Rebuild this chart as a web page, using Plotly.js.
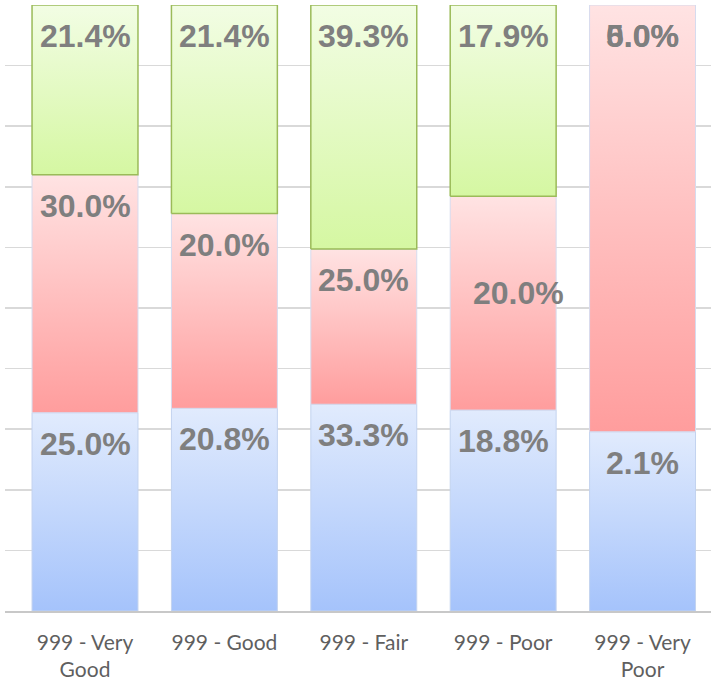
<!DOCTYPE html>
<html>
<head>
<meta charset="utf-8">
<script src="https://cdn.plot.ly/plotly-3.0.1.min.js"></script>
<style>html,body{margin:0;padding:0;background:#fff;}#chart{width:711px;height:690px;}</style>
</head>
<body>
<div id="chart"></div>
<script>
// ---- data ----
const categories = ['999 - Very<br>Good', '999 - Good', '999 - Fair', '999 - Poor', '999 - Very<br>Poor'];
const seriesNames = ['Blue', 'Red', 'Green'];
const blueValues = [25.0, 20.8, 33.3, 18.8, 2.1];
const redValues = [30.0, 20.0, 25.0, 20.0, 5.0];
const greenValues = [21.4, 21.4, 39.3, 17.9, 0.0];

// ---- styles ----
const seriesValues = [blueValues, redValues, greenValues];
const gradients = [
  {bottom: '#a5c3fb', top: '#e1ebfd', line: '#c3d3ef', lw: 1},
  {bottom: '#ff9d9d', top: '#ffe3e3', line: '#d6dbee', lw: 1},
  {bottom: '#d5f7a2', top: '#f2fde4', line: '#9bbb59', lw: 1.5}
];
const barWidth = 0.76;
// label placement exceptions (style only): key "category-series"
const labelStyleOverrides = {'3-1': {anchor: 'middle', xshift: 15, yshift: 10}};

const traces = [];
const annotations = [];
categories.forEach((cat, i) => {
  const total = seriesValues.reduce((s, arr) => s + arr[i], 0);
  let cum = 0;
  seriesValues.forEach((arr, s) => {
    const v = arr[i];
    const frac = v / total * 100;
    const bottom = Math.min(cum, 100), top = Math.min(cum + frac, 100);
    cum = cum + frac;
    const g = gradients[s];
    if (frac > 0) {
      traces.push({
        type: 'scatter', mode: 'lines', fill: 'toself',
        x: [i - barWidth/2, i + barWidth/2, i + barWidth/2, i - barWidth/2, i - barWidth/2],
        y: [bottom, bottom, top, top, bottom],
        line: {color: g.line, width: g.lw},
        fillgradient: {type: 'vertical', colorscale: [[0, g.bottom], [1, g.top]], start: bottom, stop: top},
        name: seriesNames[s], hoverinfo: 'skip', showlegend: false
      });
    }
    const ov = labelStyleOverrides[i + '-' + s];
    const ann = {
      x: i, y: ov && ov.anchor === 'middle' ? (bottom + top) / 2 : top,
      xref: 'x', yref: 'y',
      text: v.toFixed(1) + '%', showarrow: false,
      yanchor: ov && ov.anchor === 'middle' ? 'middle' : 'top',
      xshift: ov ? ov.xshift : 0,
      yshift: ov ? ov.yshift : -11,
      font: {family: 'Liberation Sans, Arial, sans-serif', size: 32, color: '#7f7f7f', weight: 'bold'}
    };
    annotations.push(ann);
  });
});

const layout = {
  width: 711, height: 690,
  margin: {l: 5, r: 0, t: 5, b: 79},
  paper_bgcolor: '#ffffff', plot_bgcolor: '#ffffff',
  showlegend: false,
  xaxis: {
    range: [-0.574, 4.491], tickmode: 'array', tickvals: categories.map((c, i) => i), ticktext: categories,
    showgrid: false, zeroline: false, showline: true, linecolor: '#c8c8c8', linewidth: 1.5, ticks: '',
    tickfont: {family: 'Lato, Liberation Sans, sans-serif', size: 21, color: '#5f5f5f'},
    ticklabelstandoff: 12, fixedrange: true
  },
  yaxis: {
    range: [0, 100], dtick: 10, showticklabels: false, showgrid: true, gridcolor: '#d9d9d9', gridwidth: 1.5,
    zeroline: false, showline: false, ticks: '', fixedrange: true
  },
  annotations: annotations
};

Plotly.newPlot('chart', traces, layout, {displayModeBar: false, staticPlot: true});
</script>
</body>
</html>
